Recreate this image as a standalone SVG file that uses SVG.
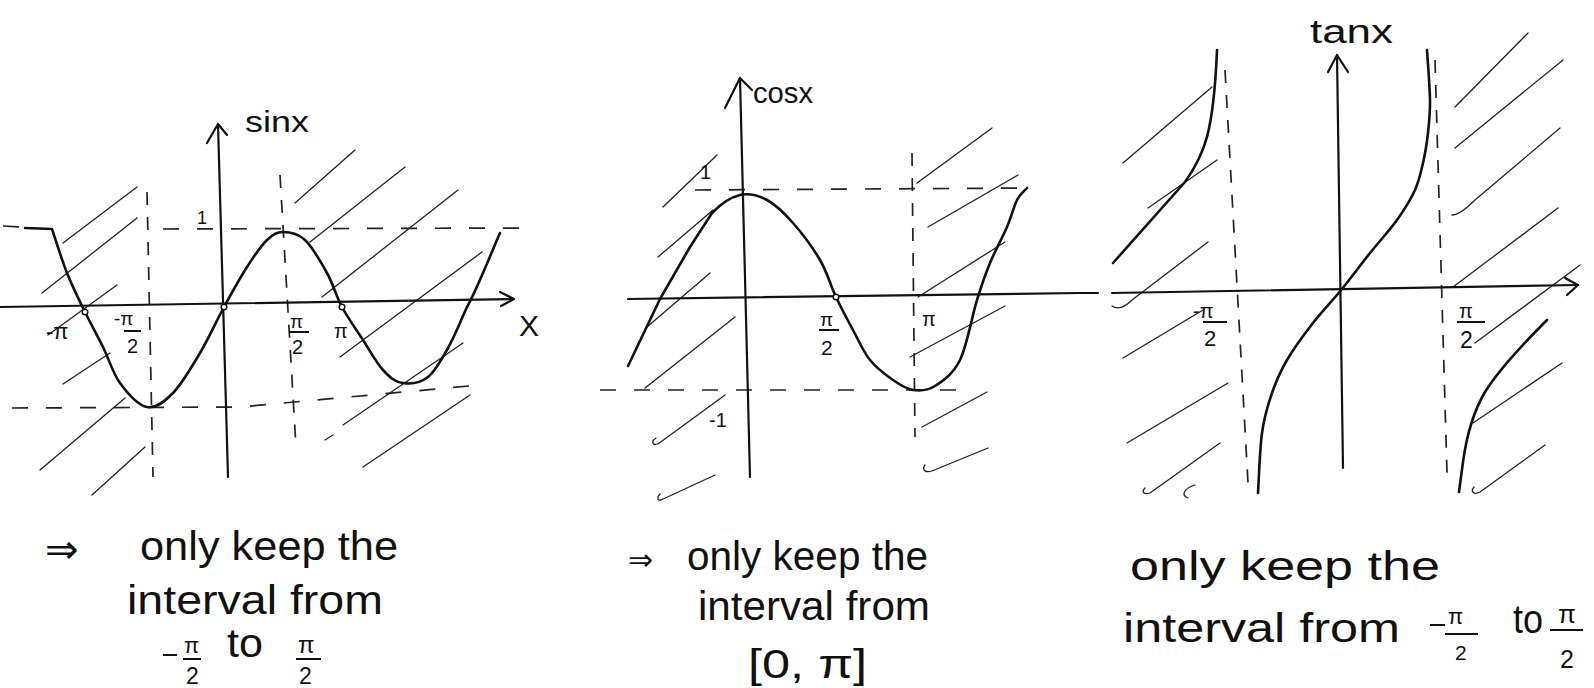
<svg xmlns="http://www.w3.org/2000/svg" width="1594" height="688" viewBox="0 0 1594 688">
<style>
.bg{fill:#fff}
.axis{stroke:#111;stroke-width:2.2;fill:none;stroke-linecap:round;stroke-linejoin:round}
.curve{stroke:#111;stroke-width:2.6;fill:none;stroke-linecap:round;stroke-linejoin:round}
.dash{stroke:#222;stroke-width:1.7;fill:none;stroke-dasharray:16 18}
.vdash{stroke:#222;stroke-width:1.7;fill:none;stroke-dasharray:13 12}
.hatch{stroke:#222;stroke-width:1.3;fill:none;stroke-linecap:round;stroke-linejoin:round}
.dot{stroke:#111;stroke-width:1.5;fill:#fff}
.lbl{font-family:"Liberation Sans",Arial,sans-serif;fill:#111}
.note{font-family:"Liberation Sans",Arial,sans-serif;fill:#111;font-size:40px}
.sym{font-family:"DejaVu Sans",sans-serif;fill:#111}
.bar{stroke:#111;stroke-width:2;fill:none}
</style>
<rect class="bg" x="0" y="0" width="1594" height="688"/>

<!-- SINE PANEL -->
<g id="sine-panel">
  <g id="sine-hatching">
    <path class="hatch" d="M63,243 L137,187 M42,293 L137,218 M48,335 L117,285 M63,384 L110,353 M40,470 L125,398 M92,495 L145,447 M295,203 L355,150 M310,242 L405,167 M322,297 L458,190 M340,357 L482,252 M343,425 L463,343 M363,467 L470,395 M325,440 L333,435"/>
  </g>
  <g id="sine-guides">
    <path class="dash" d="M163,229 L532,228"/>
    <path class="dash" d="M3,226 L20,227"/>
    <path class="dash" d="M12,408 L240,407 L480,385"/>
    <path class="vdash" d="M147,192 L153,477"/>
    <path class="vdash" d="M280,175 L296,447"/>
  </g>
  <g id="sine-axes">
    <path class="axis" d="M0,307 L513,299"/>
    <path class="axis" d="M500,292 L514,299 L501,306"/>
    <path class="axis" d="M228,477 L218,124"/>
    <path class="axis" d="M207,143 L218,124 L227,135"/>
  </g>
  <g id="sine-curve">
    <path class="curve" d="M25,228 L52,229 C54.5,236.3 61.5,259.2 67,273 C72.5,286.8 79,299.7 85,312 C91,324.3 97.2,335.2 103,347 C108.8,358.8 112.7,373 120,383 C127.3,393 138.2,405.3 147,407 C155.8,408.7 164.2,402 173,393 C181.8,384 191.5,367.3 200,353 C208.5,338.7 216.2,321.3 224,307 C231.8,292.7 239.8,278.2 247,267 C254.2,255.8 261,245.8 267,240 C273,234.2 276.7,232 283,232 C289.3,232 297.7,233.2 305,240 C312.3,246.8 320.8,261.8 327,273 C333.2,284.2 336,295.8 342,307 C348,318.2 356.2,329.5 363,340 C369.8,350.5 376.3,362.8 383,370 C389.7,377.2 395.2,382.5 403,383 C410.5,384.2 420.5,382.8 428,377 C435.5,371.2 441.5,359.7 448,348 C454.5,336.3 458.3,326.2 467,307 C475.7,292.2 494.5,245.3 500,233"/>
    <circle class="dot" cx="85" cy="312" r="2.8"/>
    <circle class="dot" cx="224" cy="307" r="2.8"/>
    <circle class="dot" cx="342" cy="307" r="2.8"/>
  </g>
  <g id="sine-labels">
    <text class="lbl" x="245" y="132" font-size="30" textLength="64" lengthAdjust="spacingAndGlyphs">sinx</text>
    <text class="lbl" x="519" y="336" font-size="30">X</text>
    <text class="lbl" x="197" y="224" font-size="18">1</text>
    <text class="lbl" x="46" y="339" font-size="22">-π</text>
    <text class="lbl" x="114" y="325" font-size="19">-π</text>
    <path class="bar" d="M124,331 L141,331"/>
    <text class="lbl" x="127" y="353" font-size="20">2</text>
    <text class="lbl" x="290" y="328" font-size="19">π</text>
    <path class="bar" d="M289,332 L309,332"/>
    <text class="lbl" x="292" y="354" font-size="20">2</text>
    <text class="lbl" x="334" y="338" font-size="20">π</text>
  </g>
</g>

<!-- COSINE PANEL -->
<g id="cosine-panel">
  <g id="cosine-hatching">
    <path class="hatch" d="M663,207 L717,155 M658,257 L713,210 M647,327 L710,273 M645,388 L735,317 M656,438 C651,441 652,446 658,444 L725,395 M660,494 C657,497 657,501 661,500 L715,475 M917,183 L992,128 M928,227 L1018,175 M918,297 L1005,242 M910,357 L1005,306 M922,427 L987,392 M925,465 C921,470 926,473 932,471 L988,448"/>
  </g>
  <g id="cosine-guides">
    <path class="dash" d="M695,190 L1030,188"/>
    <path class="dash" d="M600,390 L967,390"/>
    <path class="vdash" d="M912,153 L915,437"/>
  </g>
  <g id="cosine-axes">
    <path class="axis" d="M628,299 L1080,293"/>
    <path class="axis" d="M750,477 L740,78"/>
    <path class="axis" d="M725,108 L740,78 L752,90"/>
  </g>
  <g id="cosine-curve">
    <path class="curve" d="M628,366 L660,299 L690,247 L712,213 C720.3,204.3 730.8,197.2 740,195 C749.2,192.8 758.2,195.3 767,200 C775.8,204.7 784.2,213 793,223 C801.8,233 812.8,247.7 820,260 C827.2,272.3 830.5,285.3 836,297 C841.5,308.7 847.3,319.5 853,330 C858.7,340.5 863.3,351.7 870,360 C876.7,368.3 885.8,375 893,380 C900.2,385 906,389 913,390 C920,391 927.2,391 935,386 C942.8,381 953,374.3 960,360 C967,345.7 972,316.2 977,300 C982,283.8 985,275.2 990,263 C995,250.8 1002.5,237.5 1007,227 C1011.5,216.5 1013.7,206.5 1017,200 C1020.3,193.5 1025.3,190 1027,188"/>
    <circle class="dot" cx="836" cy="297" r="2.8"/>
  </g>
  <g id="cosine-labels">
    <text class="lbl" x="753" y="103" font-size="30" textLength="60" lengthAdjust="spacingAndGlyphs">cosx</text>
    <text class="lbl" x="700" y="179" font-size="20">1</text>
    <text class="lbl" x="709" y="427" font-size="20">-1</text>
    <text class="lbl" x="820" y="326" font-size="19">π</text>
    <path class="bar" d="M819,330 L839,330"/>
    <text class="lbl" x="821" y="355" font-size="21">2</text>
    <text class="lbl" x="922" y="326" font-size="20">π</text>
  </g>
</g>

<!-- TANGENT PANEL -->
<g id="tangent-panel">
  <g id="tangent-hatching">
    <path class="hatch" d="M1123,163 L1212,87 M1148,208 L1217,160 M1112,306 C1118,310 1125,307 1132,300 L1208,242 M1123,358 L1203,310 M1127,443 L1228,383 M1145,488 C1141,492 1144,495 1150,493 L1220,443 M1195,485 C1185,488 1180,495 1188,498 M1455,107 L1528,33 M1455,148 L1563,60 M1452,215 C1458,215 1465,210 1475,200 L1560,128 M1453,287 L1558,208 M1475,343 L1580,265 M1473,423 L1562,363 M1474,487 C1470,492 1474,495 1480,492 L1545,445"/>
  </g>
  <g id="tangent-guides">
    <path class="vdash" d="M1225,70 L1248,483"/>
    <path class="vdash" d="M1435,60 L1447,473"/>
  </g>
  <g id="tangent-axes">
    <path class="axis" d="M1080,293 L1098,293"/>
    <path class="axis" d="M1112,293 L1578,285"/>
    <path class="axis" d="M1565,278 L1578,285 L1567,295"/>
    <path class="axis" d="M1343,468 L1337,55"/>
    <path class="axis" d="M1328,72 L1337,55 L1348,72"/>
  </g>
  <g id="tangent-curves">
    <path class="curve" d="M1258,493 C1258.7,483 1259.7,449.7 1262,433 C1264.3,416.3 1267.8,405.2 1272,393 C1276.2,380.8 1280.2,371.7 1287,360 C1293.8,348.3 1303.8,334.8 1313,323 C1322.2,311.2 1332.5,300.7 1342,289 C1351.5,277.3 1360.8,264.5 1370,253 C1379.2,241.5 1389.5,230.5 1397,220 C1404.5,209.5 1410.7,199.5 1415,190 C1419.3,180.5 1420.8,172.5 1423,163 C1425.2,153.5 1426.8,143.5 1428,133 C1429.2,122.5 1430.2,113.8 1430,100 C1429.8,86.2 1427.5,58.3 1427,50"/>
    <path class="curve" d="M1217,50 C1216,75 1214,110 1207,137 C1202,155 1195,168 1185,182 L1113,263"/>
    <path class="curve" d="M1547,320 C1530,337 1500,368 1485,392 C1472,414 1466,440 1463,462 L1459,492"/>
  </g>
  <g id="tangent-labels">
    <text class="lbl" x="1310" y="43" font-size="34" textLength="83" lengthAdjust="spacingAndGlyphs">tanx</text>
    <text class="lbl" x="1193" y="318" font-size="20">-π</text>
    <path class="bar" d="M1203,322 L1227,322"/>
    <text class="lbl" x="1204" y="346" font-size="22">2</text>
    <text class="lbl" x="1459" y="318" font-size="20">π</text>
    <path class="bar" d="M1457,322 L1485,322"/>
    <text class="lbl" x="1460" y="348" font-size="23">2</text>
  </g>
</g>

<!-- NOTES -->
<g id="sine-note">
  <text class="sym" x="45" y="563" font-size="40">⇒</text>
  <text class="note" x="140" y="560" textLength="258" lengthAdjust="spacingAndGlyphs">only keep the</text>
  <text class="note" x="127" y="614" textLength="256" lengthAdjust="spacingAndGlyphs">interval from</text>
  <path class="bar" d="M163,655 L177,655"/>
  <text class="lbl" x="184" y="653" font-size="22">π</text>
  <path class="bar" d="M183,659 L201,659"/>
  <text class="lbl" x="186" y="684" font-size="23">2</text>
  <text class="note" x="227" y="657" font-size="32" textLength="36" lengthAdjust="spacingAndGlyphs">to</text>
  <text class="lbl" x="298" y="653" font-size="24">π</text>
  <path class="bar" d="M296,659 L321,659"/>
  <text class="lbl" x="299" y="684" font-size="23">2</text>
</g>
<g id="cosine-note">
  <text class="sym" x="628" y="570" font-size="30">⇒</text>
  <text class="note" x="687" y="570" textLength="241" lengthAdjust="spacingAndGlyphs">only keep the</text>
  <text class="note" x="698" y="620" textLength="232" lengthAdjust="spacingAndGlyphs">interval from</text>
  <text class="note" x="748" y="678" font-size="38" textLength="119" lengthAdjust="spacingAndGlyphs">[0, π]</text>
</g>
<g id="tangent-note">
  <text class="note" x="1130" y="580" font-size="40" textLength="310" lengthAdjust="spacingAndGlyphs">only keep the</text>
  <text class="note" x="1123" y="642" font-size="40" textLength="277" lengthAdjust="spacingAndGlyphs">interval from</text>
  <path class="bar" d="M1430,625 L1445,625"/>
  <text class="lbl" x="1448" y="624" font-size="22">π</text>
  <path class="bar" d="M1445,634 L1478,634"/>
  <text class="lbl" x="1455" y="660" font-size="21">2</text>
  <text class="note" x="1513" y="633" font-size="32" textLength="30" lengthAdjust="spacingAndGlyphs">to</text>
  <text class="lbl" x="1558" y="623" font-size="26">π</text>
  <path class="bar" d="M1550,630 L1583,630"/>
  <text class="lbl" x="1560" y="668" font-size="25">2</text>
</g>
</svg>
